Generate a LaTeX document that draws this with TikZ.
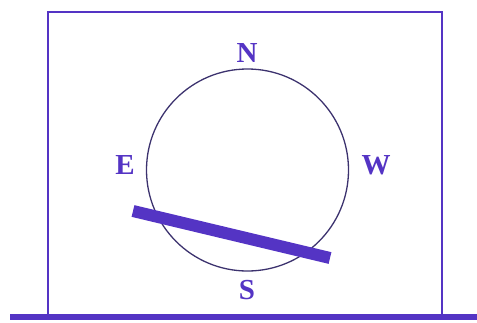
\documentclass[tikz,border=0pt]{standalone}
\usepackage{fontspec}
\setmainfont{Liberation Serif}
\definecolor{compassblue}{RGB}{84,52,196}
\definecolor{ringgray}{RGB}{60,50,110}
\begin{document}
\begin{tikzpicture}[
    x=1pt,
    y=-1pt,
    dirlabel/.style={
        text=compassblue,
        font=\fontsize{29}{29}\selectfont\bfseries,
        inner sep=0pt
    },
    ring/.style={
        circle,
        draw=ringgray,
        line width=1.3pt,
        minimum size=202pt,
        inner sep=0pt
    },
    frame/.style={
        draw=compassblue,
        line width=2pt
    },
    needle/.style={
        draw=compassblue,
        line width=12pt
    }
]
\useasboundingbox (0,0) rectangle (477,322);

% Compass circle
\node [ring] (dial) at (247.5,170) {};

% Directions
\node [dirlabel] (north) at (247,53) {N};
\node [dirlabel] (east) at (125,165) {E};
\node [dirlabel] (west) at (376,165) {W};
\node [dirlabel] (south) at (247,290) {S};

% Box and ground
\coordinate (groundl) at (10,317);
\coordinate (groundr) at (477,317);
\coordinate (boxbl) at (48,317);
\coordinate (boxtl) at (48,12);
\coordinate (boxtr) at (442,12);
\coordinate (boxbr) at (442,317);
\draw [frame] (boxbl) -- (boxtl) -- (boxtr) -- (boxbr);
\draw [draw=compassblue, line width=6pt] (groundl) -- (groundr);

% Needle
\coordinate (needlel) at (133,211);
\coordinate (needler) at (330,258);
\draw [needle] (needlel) -- (needler);

\end{tikzpicture}
\end{document}
